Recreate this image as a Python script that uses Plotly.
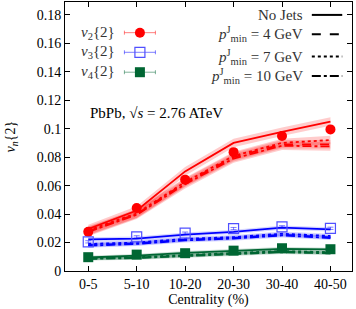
import plotly.graph_objects as go

cent = ["0-5", "5-10", "10-20", "20-30", "30-40", "40-50"]

# data points
v2_data = [0.0275, 0.0442, 0.0642, 0.0835, 0.0948, 0.0995]
v3_data = [0.0205, 0.0240, 0.0266, 0.0298, 0.0310, 0.0300]
v4_data = [0.0097, 0.0115, 0.0125, 0.0143, 0.0160, 0.0153]
err_data = [0.0008, 0.0008, 0.0008, 0.0008, 0.0008, 0.0008]

# model curves
v2_nojets = [0.0295, 0.0425, 0.0700, 0.0900, 0.0978, 0.1050]
v2_pt4 = [0.0280, 0.0400, 0.0620, 0.0800, 0.0890, 0.0890]
v2_pt7 = [0.0285, 0.0405, 0.0625, 0.0808, 0.0900, 0.0920]
v2_pt10 = [0.0275, 0.0395, 0.0610, 0.0790, 0.0880, 0.0875]
v2_band = 0.003

v3_nojets = [0.0222, 0.0228, 0.0256, 0.0275, 0.0305, 0.0292]
v3_pt4 = [0.0182, 0.0195, 0.0220, 0.0232, 0.0255, 0.0236]
v3_pt7 = [0.0190, 0.0200, 0.0226, 0.0238, 0.0262, 0.0246]
v3_pt10 = [0.0178, 0.0190, 0.0215, 0.0228, 0.0250, 0.0232]
v3_band = 0.0015

v4_nojets = [0.0095, 0.0108, 0.0128, 0.0143, 0.0156, 0.0152]
v4_pt4 = [0.0088, 0.0094, 0.0108, 0.0122, 0.0136, 0.0128]
v4_pt7 = [0.0090, 0.0097, 0.0112, 0.0126, 0.0140, 0.0132]
v4_pt10 = [0.0085, 0.0091, 0.0105, 0.0119, 0.0132, 0.0124]
v4_band = 0.0012

legend_left = ["<i>v</i><sub>2</sub>{2}", "<i>v</i><sub>3</sub>{2}", "<i>v</i><sub>4</sub>{2}"]
legend_right = ["No Jets", "<i>p</i><sup>J</sup><sub>min</sub> = 4 GeV",
                "<i>p</i><sup>J</sup><sub>min</sub> = 7 GeV",
                "<i>p</i><sup>J</sup><sub>min</sub> = 10 GeV"]

FONT = "Liberation Serif"
FS = 14
FA = 15
RED = "#ff0000"
BLUE = "#0000ff"
GREEN = "#006633"

fig = go.Figure()
xi = list(range(len(cent)))

def band(vals, hw, fillcol):
    xs = xi + xi[::-1]
    ys = [v + hw for v in vals] + [v - hw for v in vals][::-1]
    fig.add_trace(go.Scatter(x=xs, y=ys, fill="toself", fillcolor=fillcol,
                             line=dict(width=0), mode="lines", hoverinfo="skip",
                             showlegend=False))

series = [
    (v2_nojets, v2_pt4, v2_pt7, v2_pt10, v2_band, RED, "rgba(255,0,0,0.2)"),
    (v3_nojets, v3_pt4, v3_pt7, v3_pt10, v3_band, BLUE, "rgba(0,0,255,0.16)"),
    (v4_nojets, v4_pt4, v4_pt7, v4_pt10, v4_band, GREEN, "rgba(0,102,51,0.2)"),
]
for nj, p4, p7, p10, hw, col, fc in series:
    for vals in (nj, p4, p7, p10):
        band(vals, hw, fc)
    for vals, dash in ((nj, "solid"), (p4, "dash"), (p7, "dot"), (p10, "dashdot")):
        fig.add_trace(go.Scatter(x=xi, y=vals, mode="lines",
                                 line=dict(color=col, width=1.8, dash=dash),
                                 showlegend=False))

markers = [
    (v2_data, dict(symbol="circle", size=10, color=RED), "rgba(255,0,0,0.5)"),
    (v3_data, dict(symbol="square-open", size=10, color="#5050ff", line=dict(width=1.2)), "rgba(0,0,255,0.5)"),
    (v4_data, dict(symbol="square", size=10, color=GREEN), "rgba(0,102,51,0.5)"),
]
for vals, mk, ec in markers:
    fig.add_trace(go.Scatter(x=xi, y=vals, mode="markers", marker=mk,
                             error_y=dict(type="data", array=err_data, color=ec, thickness=1, width=3),
                             showlegend=False))

# manual legend samples on an overlay axis (0..1 units)
ly_left = [0.886, 0.813, 0.739]
for (vals, mk, ec), yy in zip(markers, ly_left):
    fig.add_trace(go.Scatter(x=[0.261], y=[yy], mode="markers", marker=mk,
                             error_x=dict(type="constant", value=0.054, color=ec, thickness=1, width=2),
                             xaxis="x2", yaxis="y2", showlegend=False))
ly_right = [0.952, 0.880, 0.797, 0.725]
for yy, dash in zip(ly_right, ["solid", "dash", "dot", "dashdot"]):
    fig.add_trace(go.Scatter(x=[0.860, 0.966], y=[yy, yy], mode="lines",
                             line=dict(color="black", width=2, dash=dash),
                             xaxis="x2", yaxis="y2", showlegend=False))

annos = []
for txt, yy in zip(legend_left, ly_left):
    annos.append(dict(x=0.182, y=yy, xref="x2", yref="y2", text=txt, showarrow=False,
                      xanchor="right", yanchor="middle", font=dict(family=FONT, size=FA, color="#333")))
for txt, yy in zip(legend_right, ly_right):
    annos.append(dict(x=0.836, y=yy, xref="x2", yref="y2", text=txt, showarrow=False,
                      xanchor="right", yanchor="middle", font=dict(family=FONT, size=FA, color="#333")))
annos.append(dict(x=0.08, y=0.587, xref="x2", yref="y2",
                  text="PbPb, √<i>s</i> = 2.76 ATeV", showarrow=False,
                  xanchor="left", yanchor="middle", font=dict(family=FONT, size=FA, color="black")))
# y-axis title
annos.append(dict(x=-0.185, y=0.5, xref="paper", yref="paper", textangle=-90,
                  text="<i>v</i><sub><i>n</i></sub>{2}", showarrow=False,
                  xanchor="center", yanchor="middle", font=dict(family=FONT, size=FS, color="black")))

axis_common = dict(showline=True, linecolor="black", linewidth=1, mirror="ticks",
                   ticks="inside", ticklen=5, tickcolor="black", showgrid=False,
                   zeroline=False, tickfont=dict(family=FONT, size=FS, color="black"))

fig.update_layout(
    width=356, height=309,
    margin=dict(l=65, r=4, t=2, b=38, autoexpand=False),
    paper_bgcolor="white", plot_bgcolor="white",
    xaxis=dict(range=[-0.48, 5.445], tickmode="array", tickvals=xi, ticktext=cent,
               title=dict(text="Centrality (%)", font=dict(family=FONT, size=FS, color="black"), standoff=0),
               automargin=False, **axis_common),
    yaxis=dict(range=[0, 0.189], dtick=0.02, tick0=0, automargin=False, **axis_common),
    xaxis2=dict(range=[0, 1], overlaying="x", visible=False),
    yaxis2=dict(range=[0, 1], overlaying="y", visible=False),
    annotations=annos,
    showlegend=False,
)

fig.write_html("out.html", config={"displayModeBar": False},
               post_script="document.body.style.margin='0';")
